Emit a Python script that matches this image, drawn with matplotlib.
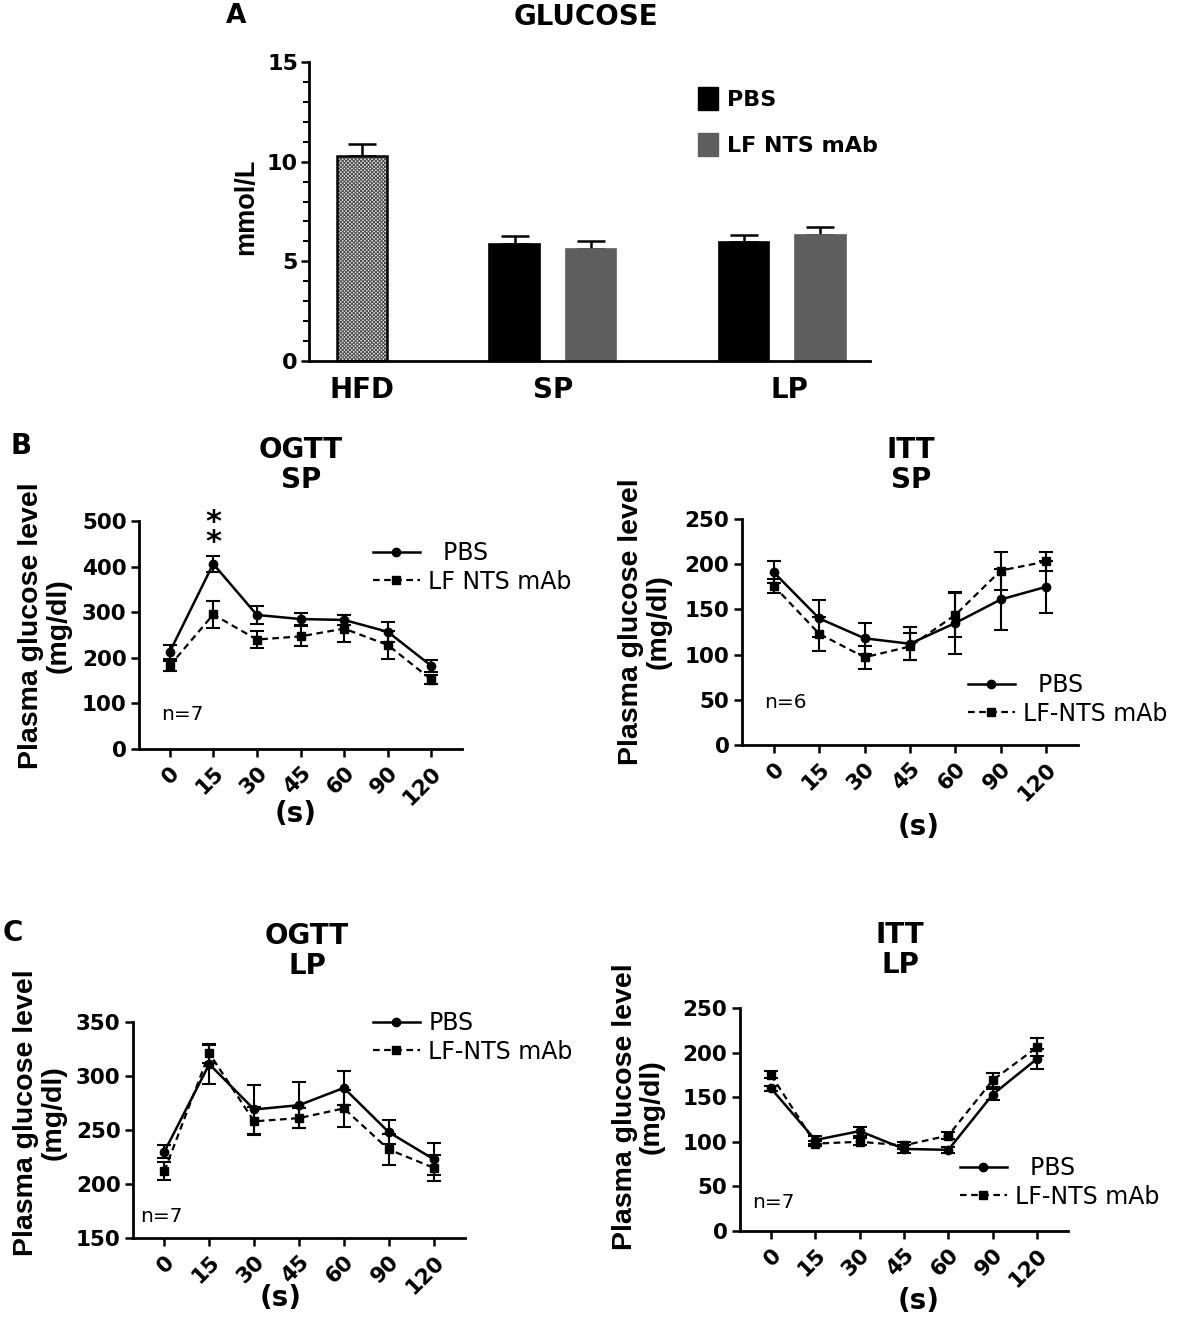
import matplotlib
matplotlib.use('Agg')
import matplotlib.pyplot as plt
from matplotlib.patches import Patch
from matplotlib.lines import Line2D
from matplotlib.ticker import MultipleLocator

# ---- Panel A: fasting glucose (mmol/L)
groups_a = ['HFD', 'SP', 'LP']
hfd_val = [10.3]
hfd_err = [0.6]
pbs_val = [5.85, 5.95]      # SP, LP
pbs_err = [0.4, 0.35]
mab_val = [5.6, 6.3]
mab_err = [0.4, 0.4]

# ---- Panels B/C: time course
times = ['0', '15', '30', '45', '60', '90', '120']

ogtt_sp_pbs = [212, 406, 294, 285, 283, 257, 182]
ogtt_sp_pbs_err = [15, 18, 19, 13, 10, 22, 13]
ogtt_sp_mab = [182, 295, 240, 247, 264, 228, 152]
ogtt_sp_mab_err = [12, 30, 18, 22, 30, 30, 10]

itt_sp_pbs = [191, 140, 118, 112, 135, 161, 175]
itt_sp_pbs_err = [12, 20, 17, 18, 34, 34, 29]
itt_sp_mab = [176, 123, 97, 109, 144, 193, 203]
itt_sp_mab_err = [8, 19, 13, 15, 24, 21, 11]

ogtt_lp_pbs = [230, 311, 269, 273, 289, 248, 223]
ogtt_lp_pbs_err = [6, 18, 23, 21, 16, 11, 15]
ogtt_lp_mab = [212, 321, 258, 261, 270, 232, 215]
ogtt_lp_mab_err = [8, 9, 13, 9, 17, 14, 12]

itt_lp_pbs = [160, 102, 112, 92, 91, 153, 193]
itt_lp_pbs_err = [3, 4, 5, 4, 3, 6, 11]
itt_lp_mab = [175, 98, 100, 96, 107, 169, 206]
itt_lp_mab_err = [4, 3, 4, 4, 4, 8, 10]

W, H = 1182, 1321
fig = plt.figure(figsize=(W / 100, H / 100), dpi=100)
plt.rcParams['font.family'] = 'DejaVu Sans'
plt.rcParams['hatch.linewidth'] = 0.7


def fx(px):
    return px / W


def fy(py):
    return 1 - py / H


def axes_px(x0, y0, x1, y1):
    return fig.add_axes([fx(x0), fy(y1), fx(x1) - fx(x0), (y1 - y0) / H])


# ================= Panel A =================
axA = axes_px(309, 62, 870, 361)
pos_hfd = [0]
pos_pbs = [2, 5]
pos_mab = [3, 6]
bw = 0.66
axA.bar(pos_hfd, hfd_val, bw, color='#e8e8e8', edgecolor='#4a4a4a', hatch='x' * 9, linewidth=0, zorder=2)
axA.bar(pos_hfd, hfd_val, bw, color='none', edgecolor='black', linewidth=1.8, zorder=3)
axA.bar(pos_pbs, pbs_val, bw, color='black', edgecolor='black', linewidth=1.2, zorder=2)
axA.bar(pos_mab, mab_val, bw, color='#5e5e5e', edgecolor='#5e5e5e', linewidth=1.2, zorder=2)
for p, v, e in [(pos_hfd, hfd_val, hfd_err), (pos_pbs, pbs_val, pbs_err), (pos_mab, mab_val, mab_err)]:
    axA.errorbar(p, v, yerr=[[0] * len(e), e], fmt='none', ecolor='black',
                 elinewidth=1.8, capsize=10, capthick=1.8, zorder=1)
axA.set_xlim(-0.69, 6.65)
axA.set_ylim(0, 15)
axA.yaxis.set_major_locator(MultipleLocator(5))
axA.yaxis.set_minor_locator(MultipleLocator(1))
axA.set_xticks([0, 2.5, 5.6])
axA.set_xticklabels(groups_a, fontsize=20, fontweight='bold')
axA.tick_params(axis='x', length=0, pad=11)
axA.tick_params(axis='y', which='major', length=6, width=1.8, labelsize=16, pad=2)
axA.tick_params(axis='y', which='minor', length=4, width=1.5)
for lab in axA.get_yticklabels():
    lab.set_fontweight('bold')
for s in ['top', 'right']:
    axA.spines[s].set_visible(False)
for s in ['left', 'bottom']:
    axA.spines[s].set_linewidth(2)
fig.text(fx(246), fy(207), 'mmol/L', rotation=90, ha='center', va='center',
         fontsize=19.5, fontweight='bold', family='Liberation Sans')
fig.text(fx(586), fy(17), 'GLUCOSE', ha='center', va='center', fontsize=20, fontweight='bold')
fig.text(fx(236), fy(16), 'A', ha='center', va='center', fontsize=19, fontweight='bold')
legA = fig.legend(handles=[Patch(facecolor='black', edgecolor='black', label='PBS'),
                           Patch(facecolor='#5e5e5e', edgecolor='#5e5e5e', label='LF NTS mAb')],
                  loc='upper left', bbox_to_anchor=(fx(687), fy(76)), frameon=False,
                  handlelength=0.9, handleheight=1.2, labelspacing=1.05, borderpad=0,
                  handletextpad=0.4, prop={'weight': 'bold', 'size': 16})


# ================= Panels B/C =================
def line_panel(box, pbs, pbs_err, mab, mab_err, ylim, ystep, title, title_xy,
               ylabel_xy, s_xy, ntext, n_xy, leg_xy, mab_label, pbs_label):
    ax = axes_px(*box)
    x = list(range(len(times)))
    ax.errorbar(x, pbs, yerr=pbs_err, fmt='none', ecolor='black', elinewidth=1.5,
                capsize=5, capthick=1.5, zorder=3)
    ax.errorbar(x, mab, yerr=mab_err, fmt='none', ecolor='black', elinewidth=1.5,
                capsize=5, capthick=1.5, zorder=3)
    ax.plot(x, pbs, '-', color='black', lw=1.8, marker='o', ms=6, zorder=4)
    ax.plot(x, mab, '--', color='black', lw=1.6, marker='s', ms=6, dashes=(3, 2), zorder=4)
    ax.set_xlim(-0.7, 6.7)
    ax.set_ylim(*ylim)
    ax.yaxis.set_major_locator(MultipleLocator(ystep))
    ax.set_xticks(x)
    ax.set_xticklabels(times, rotation=45, ha='right', rotation_mode='anchor',
                       fontsize=15.5, fontweight='bold')
    ax.tick_params(axis='both', length=6, width=1.8, labelsize=15.5, pad=3)
    for lab in ax.get_yticklabels():
        lab.set_fontweight('bold')
    ax.tick_params(axis='x', pad=4)
    for s in ['top', 'right']:
        ax.spines[s].set_visible(False)
    for s in ['left', 'bottom']:
        ax.spines[s].set_linewidth(2)
    fig.text(fx(title_xy[0]), fy(title_xy[1]), title, ha='center', va='center',
             fontsize=20, fontweight='bold', linespacing=1.1)
    fig.text(fx(ylabel_xy[0]), fy(ylabel_xy[1]), 'Plasma glucose level\n(mg/dl)', rotation=90,
             ha='center', va='center', fontsize=20.5, fontweight='bold',
             family='Liberation Sans', linespacing=1.05)
    fig.text(fx(s_xy[0]), fy(s_xy[1]), '(s)', ha='center', va='center', fontsize=20, fontweight='bold')
    fig.text(fx(n_xy[0]), fy(n_xy[1]), ntext, ha='left', va='center', fontsize=14.5)
    h_pbs = Line2D([], [], color='black', lw=1.8, marker='o', ms=6)
    h_mab = Line2D([], [], color='black', lw=1.6, ls='--', dashes=(3, 2), marker='s', ms=6)
    fig.legend(handles=[h_pbs, h_mab], labels=[pbs_label, mab_label], loc='upper left',
               bbox_to_anchor=(fx(leg_xy[0]), fy(leg_xy[1])), frameon=False, fontsize=17,
               handlelength=2.0, borderpad=0, labelspacing=0.2, handletextpad=0.35)
    return ax


axB1 = line_panel((139, 521, 462, 749), ogtt_sp_pbs, ogtt_sp_pbs_err, ogtt_sp_mab, ogtt_sp_mab_err,
                  (0, 500), 100, 'OGTT\nSP', (301, 465), (45, 626), (296, 814), 'n=7', (161, 714),
                  (361, 529), 'LF NTS mAb', '  PBS')
axB1.text(1, 474, '*\n*', ha='center', va='center', fontsize=22, fontweight='bold', linespacing=0.6)

line_panel((742, 519, 1078, 745), itt_sp_pbs, itt_sp_pbs_err, itt_sp_mab, itt_sp_mab_err,
           (0, 250), 50, 'ITT\nSP', (911, 465), (645, 622), (919, 827), 'n=6', (764, 703),
           (956, 661), 'LF-NTS mAb', '  PBS')

line_panel((133, 1022, 465, 1238), ogtt_lp_pbs, ogtt_lp_pbs_err, ogtt_lp_mab, ogtt_lp_mab_err,
           (150, 350), 50, 'OGTT\nLP', (307, 951), (40, 1113), (281, 1298), 'n=7', (140, 1217),
           (361, 999), 'LF-NTS mAb', 'PBS')

line_panel((740, 1008, 1068, 1231), itt_lp_pbs, itt_lp_pbs_err, itt_lp_mab, itt_lp_mab_err,
           (0, 250), 50, 'ITT\nLP', (900, 950), (638, 1107), (919, 1301), 'n=7', (752, 1203),
           (948, 1144), 'LF-NTS mAb', '  PBS')

fig.text(fx(21), fy(446), 'B', ha='center', va='center', fontsize=20, fontweight='bold')
fig.text(fx(13), fy(933), 'C', ha='center', va='center', fontsize=20, fontweight='bold')

plt.savefig('out.png', dpi=100)
